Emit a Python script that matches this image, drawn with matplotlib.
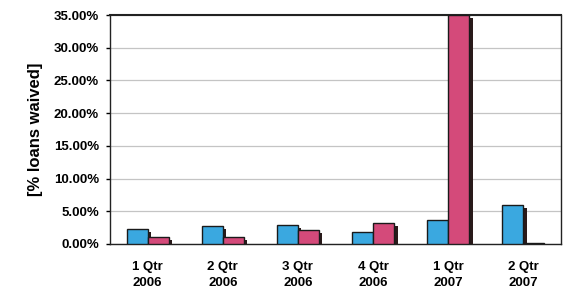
import matplotlib
matplotlib.use("Agg")
import matplotlib.pyplot as plt
import matplotlib.patheffects as pe
import numpy as np
from matplotlib.ticker import FuncFormatter

categories = ["1 Qtr\n2006", "2 Qtr\n2006", "3 Qtr\n2006", "4 Qtr\n2006", "1 Qtr\n2007", "2 Qtr\n2007"]
series_a = [2.3, 2.7, 2.9, 1.9, 3.7, 5.9]
series_b = [1.0, 1.1, 2.1, 3.2, 35.0, 0.2]
yticks = [0, 5, 10, 15, 20, 25, 30, 35]

plt.rcParams['font.family'] = ['Liberation Sans', 'DejaVu Sans']
plt.rcParams['font.weight'] = 'bold'

fig = plt.figure(figsize=(5.69, 2.93), dpi=100)
ax = fig.add_axes([110/569, 1 - 244/293, 451/569, 229/293])

x = np.arange(len(categories))
w = 0.28
shadow = [pe.SimplePatchShadow(offset=(2.5, -2), shadow_rgbFace='#2a1a1a', alpha=1.0), pe.Normal()]
ax.bar(x - w/2, series_a, w, color='#3aa8e0', edgecolor='#1a1a1a', linewidth=1.0,
       path_effects=shadow, zorder=3)
ax.bar(x + w/2, series_b, w, color='#d44a7a', edgecolor='#1a1a1a', linewidth=1.0,
       path_effects=shadow, zorder=3)

ax.set_xlim(-0.5, len(categories) - 0.5)
ax.set_ylim(0, 35)
ax.set_yticks(yticks)
ax.yaxis.set_major_formatter(FuncFormatter(lambda v, p: f"{v:.2f}%"))
ax.set_xticks(x)
ax.set_xticklabels(categories, fontsize=9.5, fontweight='bold', linespacing=1.5)
ax.tick_params(axis='y', labelsize=9.5, direction='out', length=3, width=1, pad=5)
ax.tick_params(axis='x', length=0, pad=12)
for lab in ax.get_yticklabels():
    lab.set_fontweight('bold')
ax.grid(axis='y', color='#c4c4c4', linewidth=0.9, zorder=0)
ax.set_axisbelow(True)
for s in ['left', 'bottom', 'top', 'right']:
    ax.spines[s].set_color('#222222')
    ax.spines[s].set_linewidth(1.0)
ax.spines['top'].set_linewidth(1.5)
ax.set_ylabel("[% loans waived]", fontsize=12, fontweight='bold', labelpad=8)

fig.savefig("out.png", dpi=100)
